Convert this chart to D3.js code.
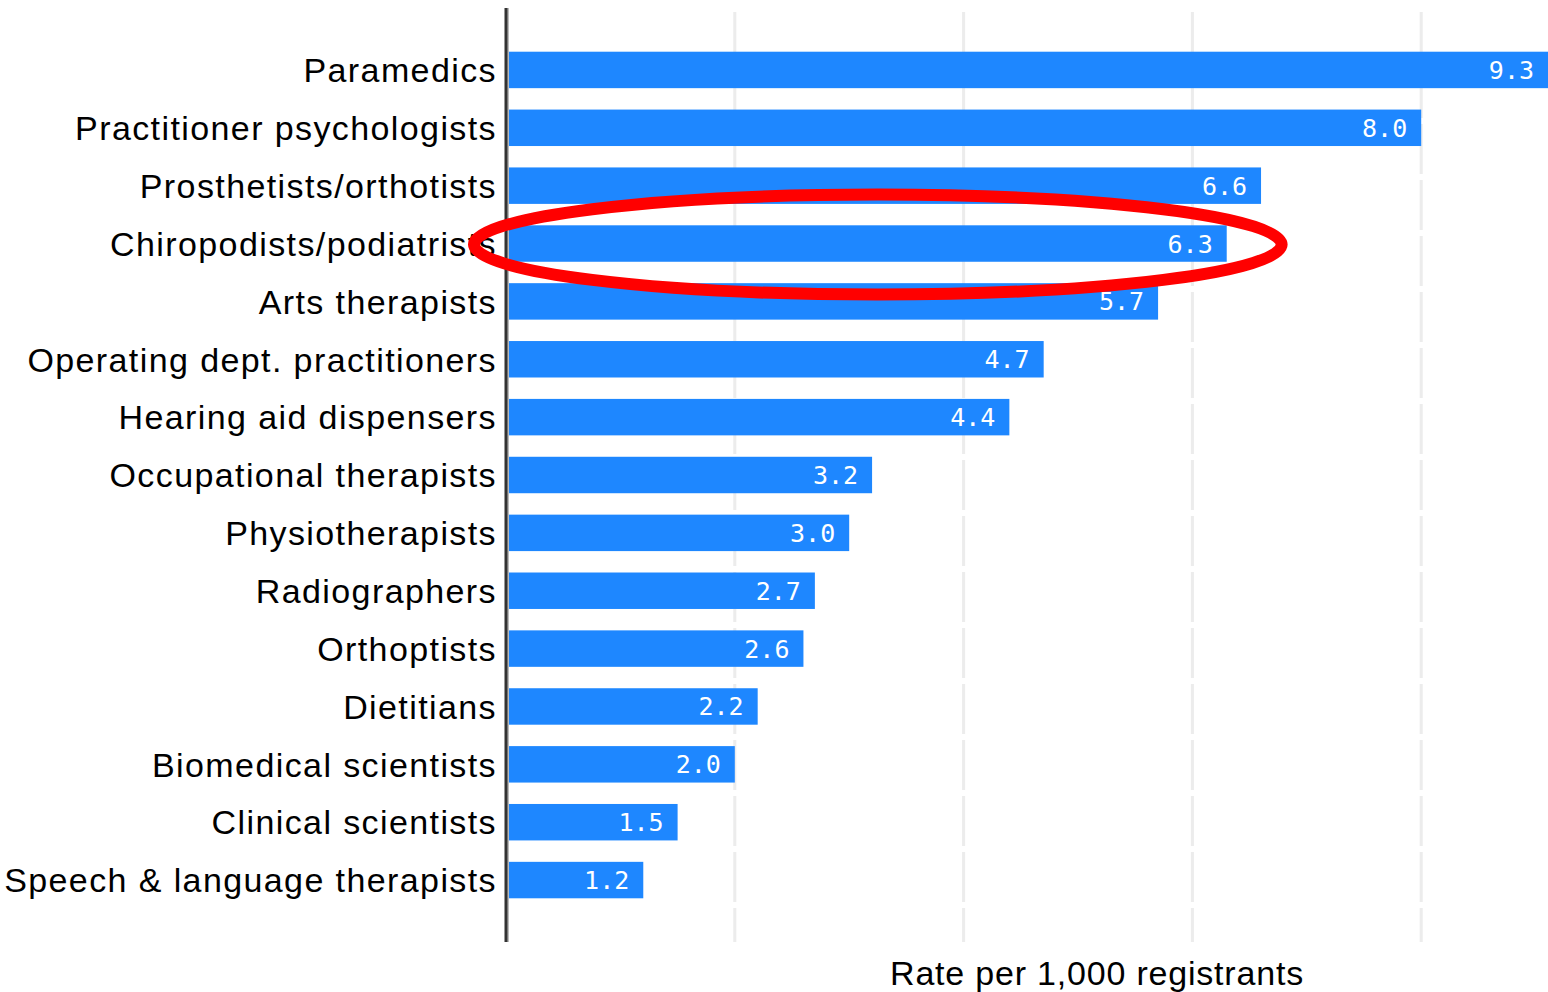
<!DOCTYPE html>
<html>
<head>
<meta charset="utf-8">
<script src="https://cdn.jsdelivr.net/npm/d3@7"></script>
<style>
  html, body { margin: 0; padding: 0; background: #fff; overflow: hidden; }
  svg { display: block; }
</style>
</head>
<body>
<svg id="chart"></svg>
<script>
// Données
const professions = [
  'Paramedics', 'Practitioner psychologists', 'Prosthetists/orthotists',
  'Chiropodists/podiatrists', 'Arts therapists', 'Operating dept. practitioners',
  'Hearing aid dispensers', 'Occupational therapists', 'Physiotherapists',
  'Radiographers', 'Orthoptists', 'Dietitians', 'Biomedical scientists',
  'Clinical scientists', 'Speech & language therapists'
];
const rates = [9.3, 8.0, 6.6, 6.3, 5.7, 4.7, 4.4, 3.2, 3.0, 2.7, 2.6, 2.2, 2.0, 1.5, 1.2];
const gridTicks = [2, 4, 6, 8];
const axisTitle = 'Rate per 1,000 registrants';
const highlighted = 'Chiropodists/podiatrists';

const width = 1548;
const height = 992;

const svg = d3.select('#chart')
  .attr('width', width)
  .attr('height', height);

// Échelles
const x = d3.scaleLinear().domain([0, 10]).range([506, 1650]);
const y = d3.scaleBand().domain(professions).range([41, 909])
  .paddingInner(0.37).paddingOuter(0.185);

const plotTop = 8;
const plotBottom = 942;

// Grille
svg.append('g')
  .selectAll('line')
  .data(gridTicks)
  .join('line')
  .attr('x1', d => x(d)).attr('x2', d => x(d))
  .attr('y1', plotTop + 4).attr('y2', plotBottom)
  .attr('stroke', '#ececec')
  .attr('stroke-width', 3)
  .attr('stroke-dasharray', '50,6');

// Barres
const rows = professions.map((p, i) => ({ name: p, value: rates[i] }));

svg.append('g')
  .selectAll('rect')
  .data(rows)
  .join('rect')
  .attr('x', x(0))
  .attr('y', d => y(d.name))
  .attr('width', d => x(d.value) - x(0))
  .attr('height', y.bandwidth())
  .attr('fill', '#1e87ff');

// Valeurs dans les barres
svg.append('g')
  .selectAll('text')
  .data(rows)
  .join('text')
  .attr('x', d => Math.min(x(d.value), width) - 14)
  .attr('y', d => y(d.name) + y.bandwidth() / 2)
  .attr('dy', '0.36em')
  .attr('text-anchor', 'end')
  .attr('fill', '#fff')
  .attr('font-family', 'DejaVu Sans Mono, monospace')
  .attr('font-size', 25)
  .text(d => d3.format('.1f')(d.value));

// Libellés des catégories
svg.append('g')
  .selectAll('text')
  .data(professions)
  .join('text')
  .attr('x', 497)
  .attr('y', d => y(d) + y.bandwidth() / 2)
  .attr('dy', '0.36em')
  .attr('text-anchor', 'end')
  .attr('fill', '#000')
  .attr('font-family', 'Liberation Sans, Arial, sans-serif')
  .attr('font-size', 34)
  .attr('letter-spacing', '1.4px')
  .text(d => d);

// Axe vertical
svg.append('line')
  .attr('x1', x(0) + 2).attr('x2', x(0) + 2)
  .attr('y1', plotTop).attr('y2', plotBottom)
  .attr('stroke', '#bbb')
  .attr('stroke-width', 2);
svg.append('line')
  .attr('x1', x(0)).attr('x2', x(0))
  .attr('y1', plotTop).attr('y2', plotBottom)
  .attr('stroke', '#333')
  .attr('stroke-width', 3);

// Titre de l'axe
svg.append('text')
  .attr('x', 1097)
  .attr('y', 985)
  .attr('text-anchor', 'middle')
  .attr('fill', '#000')
  .attr('font-family', 'Liberation Sans, Arial, sans-serif')
  .attr('font-size', 34)
  .attr('letter-spacing', '0.8px')
  .text(axisTitle);

// Ellipse de mise en évidence
const hy = y(highlighted) + y.bandwidth() / 2;
svg.append('ellipse')
  .attr('cx', x(3.25))
  .attr('cy', hy + 1)
  .attr('rx', x(3.53) - x(0))
  .attr('ry', 50)
  .attr('fill', 'none')
  .attr('stroke', '#ff0000')
  .attr('stroke-width', 12);
</script>
</body>
</html>
